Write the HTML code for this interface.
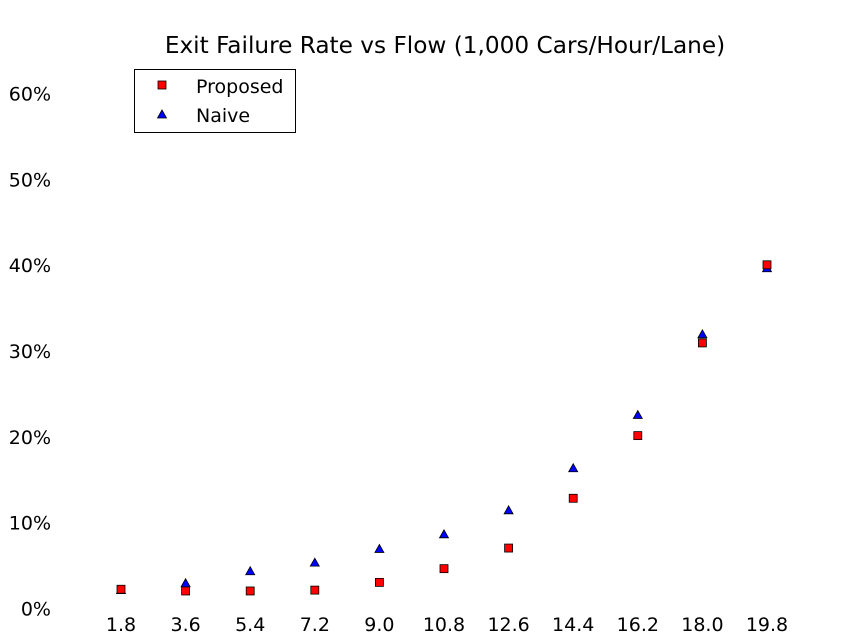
<!DOCTYPE html>
<html><head><meta charset="utf-8"><style>
body{margin:0;background:#fff;}
svg{display:block;font-family:"DejaVu Sans","Liberation Sans",sans-serif;}
</style></head><body>
<svg id="chart" width="841" height="644">
<text x="445" y="53" font-size="23.2" text-anchor="middle">Exit Failure Rate vs Flow (1,000 Cars/Hour/Lane)</text>
<g id="axes"></g><g id="marks"></g>
<g>
<rect x="134.5" y="69.5" width="161" height="63" fill="#fff" stroke="#000" stroke-width="1"/>
<rect x="158" y="81" width="8" height="8" fill="#f00" stroke="#000" stroke-width="0.8"/>
<text x="196" y="93" font-size="19">Proposed</text>
<polygon points="162,110 166.5,118 157.5,118" fill="#00f" stroke="#000" stroke-width="0.8"/>
<text x="196" y="122" font-size="19">Naive</text>
</g>
</svg>
<script>
const categories=["1.8","3.6","5.4","7.2","9.0","10.8","12.6","14.4","16.2","18.0","19.8"];
const proposed=[2.3,2.1,2.1,2.2,3.1,4.7,7.1,12.9,20.2,31.0,40.1];
const naive=[2.2,3.0,4.4,5.4,7.0,8.7,11.5,16.4,22.6,32.0,39.7];
const yTicks=[0,10,20,30,40,50,60];
const NS="http://www.w3.org/2000/svg";
const xs=i=>121+i*(767-121)/(categories.length-1);
const ys=v=>609-v*(609-94)/60;
const axes=document.getElementById('axes'),marks=document.getElementById('marks');
function mk(t,a,p){const e=document.createElementNS(NS,t);for(const k in a)e.setAttribute(k,a[k]);p.appendChild(e);return e;}
yTicks.forEach(v=>{const t=mk('text',{x:51,y:ys(v)+6.5,'font-size':19,'text-anchor':'end'},axes);t.textContent=v+'%';

});
categories.forEach((c,i)=>{const t=mk('text',{x:xs(i),y:631,'font-size':19,'text-anchor':'middle'},axes);t.textContent=c;

});
naive.forEach((v,i)=>{const x=xs(i),y=ys(v);const p=mk('polygon',{points:`${x},${y-4.5} ${x+4.5},${y+3.5} ${x-4.5},${y+3.5}`,fill:'#00f',stroke:'#000','stroke-width':0.8},marks);

});
proposed.forEach((v,i)=>{const r=mk('rect',{x:xs(i)-4,y:ys(v)-4,width:8,height:8,fill:'#f00',stroke:'#000','stroke-width':0.8},marks);

});
</script>
</body></html>
